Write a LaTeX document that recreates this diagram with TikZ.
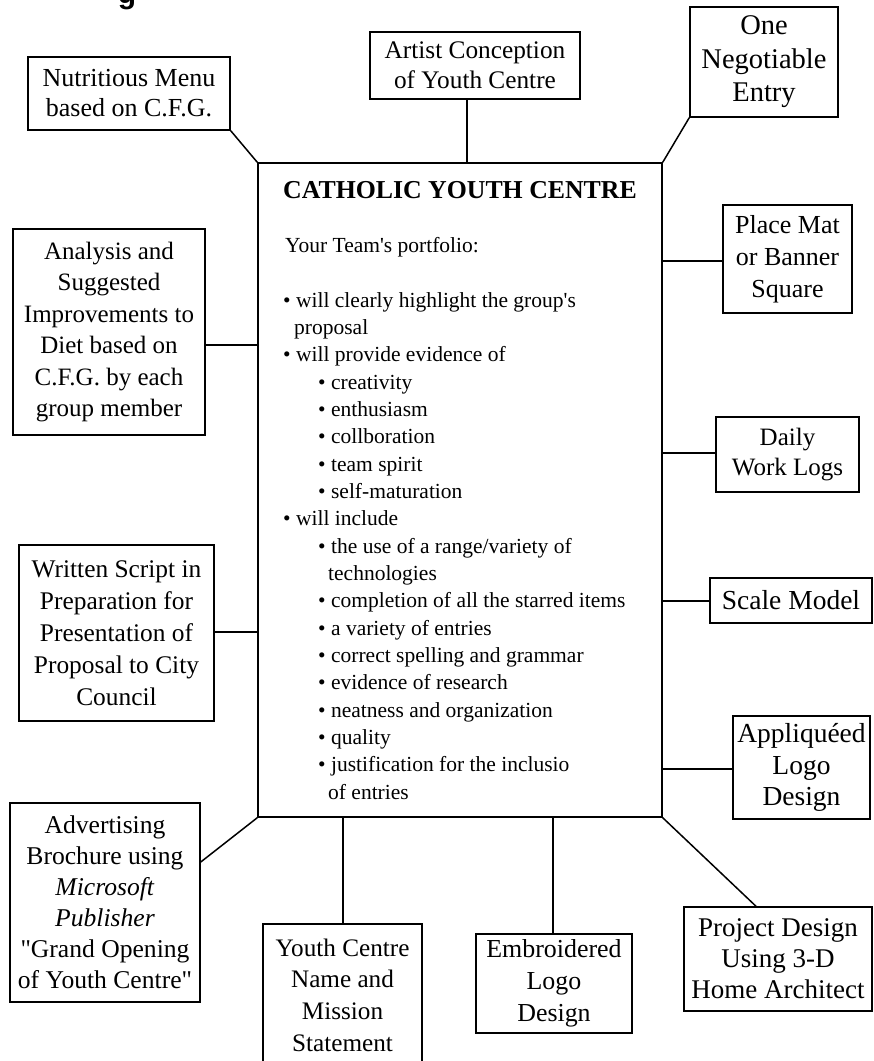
\documentclass[tikz,border=0pt]{standalone}
\usepackage{fontspec}
\setmainfont{Liberation Serif}
\newfontfamily\tnr{Liberation Serif}
\newfontfamily\arialb{Liberation Sans}
\tikzset{
  box/.style={draw, line width=1.5pt, inner sep=0pt, align=center},
  ln/.style={line width=1.5pt},
  fs/.style 2 args={font={\tnr\fontsize{#1}{#2}\selectfont}}
}
\begin{document}
\begin{tikzpicture}[x=1pt,y=-1pt]
\useasboundingbox (0,0) rectangle (874,1061);
\clip (0,0) rectangle (874,1061);
% partly cut heading letter
\node[anchor=base, inner sep=0pt, font={\arialb\bfseries\fontsize{30}{34}\selectfont}] (hd) at (127,3.5) {g};
% central box
\node[box, minimum width=404pt, minimum height=654pt] (cyc) at (460,490) {};
\node[anchor=base west, inner sep=0pt, font={\tnr\bfseries\fontsize{25.8}{30}\selectfont}] (title) at (283,198) {CATHOLIC YOUTH CENTRE};
\node[anchor=base west, inner sep=0pt, fs={21.5}{27.33}] (body) at (283,252.5) {\parbox[t]{370pt}{%
\hspace*{2pt}Your Team's portfolio:\\
\mbox{}\\
• will clearly highlight the group's\\
\hspace*{11pt}proposal\\
• will provide evidence of\\
\hspace*{35pt}• creativity\\
\hspace*{35pt}• enthusiasm\\
\hspace*{35pt}• collboration\\
\hspace*{35pt}• team spirit\\
\hspace*{35pt}• self-maturation\\
• will include\\
\hspace*{35pt}• the use of a range/variety of\\
\hspace*{45pt}technologies\\
\hspace*{35pt}• completion of all the starred items\\
\hspace*{35pt}• a variety of entries\\
\hspace*{35pt}• correct spelling and grammar\\
\hspace*{35pt}• evidence of research\\
\hspace*{35pt}• neatness and organization\\
\hspace*{35pt}• quality\\
\hspace*{35pt}• justification for the inclusio\\
\hspace*{45pt}of entries}};
% outer boxes
\node[box, fs={26}{30}, minimum width=202pt, minimum height=73pt] (nut) at (129,93.5) {Nutritious Menu\\based on C.F.G.};
\node[box, fs={25.3}{30}, minimum width=210pt, minimum height=67pt] (art) at (475,65.5) {Artist Conception\\of Youth Centre};
\node[box, fs={28.5}{33.5}, minimum width=148pt, minimum height=110pt] (one) at (764,62) {One\\Negotiable\\Entry};
\node[box, fs={25}{31.5}, minimum width=192pt, minimum height=206pt] (ana) at (109,332) {Analysis and\\Suggested\\Improvements to\\Diet based on\\C.F.G. by each\\group member};
\node[box, fs={26}{32}, minimum width=129pt, minimum height=108pt] (pla) at (787.5,259) {Place Mat\\or Banner\\Square};
\node[box, fs={25}{30}, minimum width=143pt, minimum height=75pt] (dai) at (787.5,454.5) {Daily\\Work Logs};
\node[box, fs={27.5}{31}, minimum width=162pt, minimum height=45pt] (sca) at (791,600.5) {Scale Model};
\node[box, fs={25.4}{32}, minimum width=195pt, minimum height=176pt] (wri) at (116.5,633) {Written Script in\\Preparation for\\Presentation of\\Proposal to City\\Council};
\node[box, fs={27.5}{31.7}, minimum width=137pt, minimum height=103pt] (app) at (801.5,767.5) {Appliquéed\\Logo\\Design};
\node[box, fs={25.6}{31}, minimum width=190pt, minimum height=199pt] (adv) at (105,902.5) {Advertising\\Brochure using\\\textit{Microsoft}\\\textit{Publisher}\\"Grand Opening\\of Youth Centre"};
\node[box, fs={25.2}{31.7}, minimum width=159pt, minimum height=142pt] (you) at (342.5,995) {Youth Centre\\Name and\\Mission\\Statement};
\node[box, fs={25.9}{32}, minimum width=156pt, minimum height=99pt] (emb) at (554,983.5) {Embroidered\\Logo\\Design};
\node[box, fs={27}{31}, minimum width=188pt, minimum height=104pt] (pro) at (778,959) {Project Design\\Using 3-D\\Home Architect};
% connector guide coordinates
\coordinate (xart) at (467,0);
\coordinate (yana) at (0,345);
\coordinate (ypla) at (0,261);
\coordinate (ydai) at (0,453);
\coordinate (ysca) at (0,601);
\coordinate (ywri) at (0,632);
\coordinate (yapp) at (0,769);
\coordinate (yadv) at (0,862);
\coordinate (xyou) at (343,0);
\coordinate (xemb) at (553,0);
\coordinate (xpro) at (756,0);
% connectors
\draw[ln] (nut.south east) -- (cyc.north west);
\draw[ln] (art.south -| xart) -- (cyc.north -| xart);
\draw[ln] (one.south west) -- (cyc.north east);
\draw[ln] (ana.east |- yana) -- (cyc.west |- yana);
\draw[ln] (cyc.east |- ypla) -- (pla.west |- ypla);
\draw[ln] (cyc.east |- ydai) -- (dai.west |- ydai);
\draw[ln] (cyc.east |- ysca) -- (sca.west |- ysca);
\draw[ln] (wri.east |- ywri) -- (cyc.west |- ywri);
\draw[ln] (cyc.east |- yapp) -- (app.west |- yapp);
\draw[ln] (cyc.south west) -- (adv.east |- yadv);
\draw[ln] (cyc.south -| xyou) -- (you.north -| xyou);
\draw[ln] (cyc.south -| xemb) -- (emb.north -| xemb);
\draw[ln] (cyc.south east) -- (pro.north -| xpro);
\end{tikzpicture}
\end{document}
